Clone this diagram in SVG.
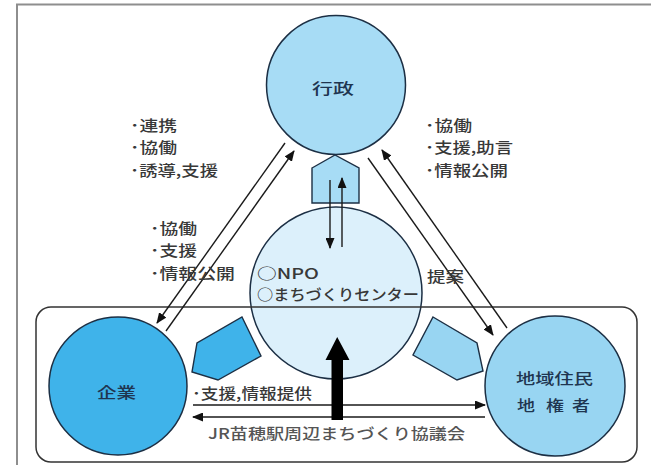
<svg xmlns="http://www.w3.org/2000/svg" width="651" height="465" viewBox="0 0 651 465">
<style>
text{font-family:"Noto Sans CJK JP","Noto Sans",sans-serif;font-size:15px;font-weight:500;fill:#383838}
.node{stroke:#1c2f44;stroke-width:1.5}
.lbl{fill:#1f3550}
.conn{stroke:#1a1a1a;stroke-width:1.4;fill:none}
.pent{stroke:#1c2f44;stroke-width:1.4}
</style>
<defs>
<marker id="ah" markerUnits="userSpaceOnUse" markerWidth="11" markerHeight="9" refX="10" refY="4.5" orient="auto">
<path d="M0,0 L11,4.5 L0,9 z" fill="#111"/>
</marker>
</defs>
<rect x="0" y="0" width="651" height="465" fill="#fff"/>
<rect x="17" y="4.5" width="700" height="520" fill="none" stroke="#8e8e8e" stroke-width="2"/>

<g id="npo">
<circle cx="336" cy="293" r="86" fill="#dcf0fb" class="node"/>
<text x="257" y="278.7" textLength="62" lengthAdjust="spacingAndGlyphs">○NPO</text>
<text x="257" y="299.7" textLength="162" lengthAdjust="spacingAndGlyphs">○まちづくりセンター</text>
</g>

<g id="council">
<rect x="36" y="307" width="601" height="155" rx="15" fill="none" stroke="#333" stroke-width="1.5"/>
<text x="208" y="438.7" textLength="257" lengthAdjust="spacingAndGlyphs" style="fill:#555">JR苗穂駅周辺まちづくり協議会</text>
</g>

<g id="gyosei">
<circle cx="336" cy="85" r="69.5" fill="#a7dcf5" class="node"/>
<text class="lbl" x="312" y="93.7" textLength="42" lengthAdjust="spacingAndGlyphs">行政</text>
</g>

<g id="kigyo">
<circle cx="118" cy="386" r="69" fill="#3fb3ea" class="node"/>
<text class="lbl" x="97" y="397.7" textLength="39" lengthAdjust="spacingAndGlyphs">企業</text>
</g>

<g id="jumin">
<circle cx="555" cy="386" r="70" fill="#98d5f2" class="node"/>
<text class="lbl" x="516" y="383.7" textLength="77" lengthAdjust="spacingAndGlyphs">地域住民</text>
<text class="lbl" transform="scale(1.2,1)" x="430.8 455 476.7" y="410.7">地権者</text>
</g>

<g id="pentagons">
<polygon class="pent" points="312,168 335,155 359,168 359,203 312,203" fill="#a7dcf5"/>
<polygon class="pent" points="242,317 261,356 218,380 192,372 197,343" fill="#3fb3ea"/>
<polygon class="pent" points="433,317 477,343 483,371 457,380 413,355" fill="#98d5f2"/>
</g>

<g id="connectors">
<line class="conn" x1="285" y1="143" x2="157" y2="323" marker-end="url(#ah)"/>
<line class="conn" x1="166" y1="331" x2="294" y2="151" marker-end="url(#ah)"/>
<line class="conn" x1="368" y1="158" x2="493" y2="335" marker-end="url(#ah)"/>
<line class="conn" x1="507" y1="328" x2="382" y2="150" marker-end="url(#ah)"/>
<line class="conn" x1="330" y1="180" x2="330" y2="248" stroke-width="1.8" marker-end="url(#ah)"/>
<line class="conn" x1="342" y1="247" x2="342" y2="178" stroke-width="1.8" marker-end="url(#ah)"/>
<line class="conn" x1="193" y1="405" x2="485" y2="405" marker-end="url(#ah)"/>
<line class="conn" x1="485" y1="417" x2="193" y2="417" marker-end="url(#ah)"/>
<polygon points="331.5,420 343,420 343,360 349.5,360 337.2,337 325.5,360 331.5,360" fill="#000"/>
</g>

<g id="labels">
<text x="130" y="130.7" textLength="47" lengthAdjust="spacingAndGlyphs">･連携</text>
<text x="130" y="152.7" textLength="47" lengthAdjust="spacingAndGlyphs">･協働</text>
<text x="130" y="175.7" textLength="88" lengthAdjust="spacingAndGlyphs">･誘導,支援</text>
<text x="425" y="130.7" textLength="47" lengthAdjust="spacingAndGlyphs">･協働</text>
<text x="425" y="152.7" textLength="88" lengthAdjust="spacingAndGlyphs">･支援,助言</text>
<text x="425" y="175.7" textLength="83" lengthAdjust="spacingAndGlyphs">･情報公開</text>
<text x="150" y="233.7" textLength="47" lengthAdjust="spacingAndGlyphs">･協働</text>
<text x="150" y="256.2" textLength="47" lengthAdjust="spacingAndGlyphs">･支援</text>
<text x="150" y="278.7" textLength="85" lengthAdjust="spacingAndGlyphs">･情報公開</text>
<text x="427" y="282.2" textLength="37" lengthAdjust="spacingAndGlyphs">提案</text>
<text x="192" y="399.2" textLength="120" lengthAdjust="spacingAndGlyphs">･支援,情報提供</text>
</g>
</svg>
